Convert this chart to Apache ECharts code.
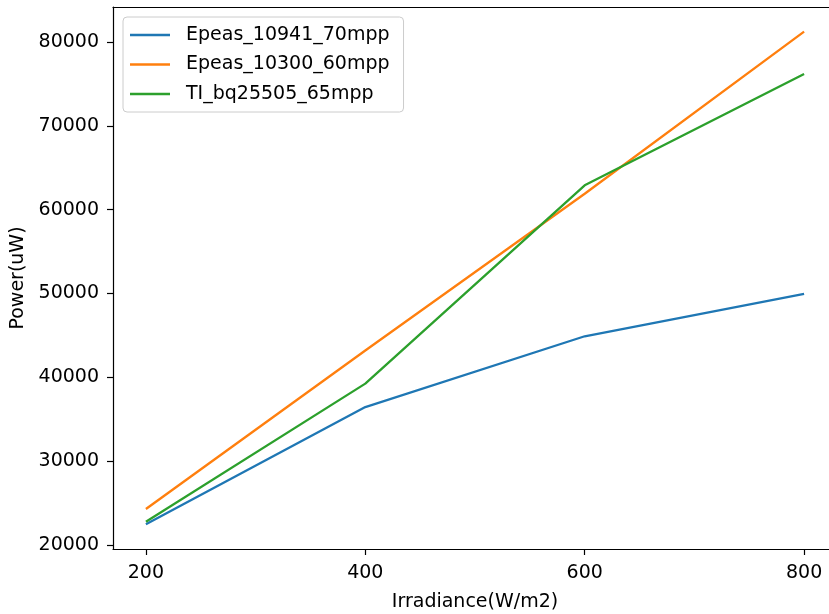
<!DOCTYPE html>
<html>
<head>
<meta charset="utf-8">
<script src="https://cdn.jsdelivr.net/npm/echarts@6/dist/echarts.min.js"></script>
<style>
html,body{margin:0;padding:0;background:#fff;}
#chart{width:829px;height:614px;}
</style>
</head>
<body>
<div id="chart"></div>
<script>
const irradiance = [200, 400, 600, 800];
const epeas10941 = [22470, 36460, 44900, 49950];
const epeas10300 = [24300, 43200, 61900, 81230];
const tiBq25505 = [22780, 39250, 62900, 76180];
const seriesNames = ['Epeas_10941_70mpp', 'Epeas_10300_60mpp', 'TI_bq25505_65mpp'];
const xTicks = [200, 400, 600, 800];
const yTicks = [20000, 30000, 40000, 50000, 60000, 70000, 80000];

const colors = ['#1f77b4', '#ff7f0e', '#2ca02c'];
const font = 'DejaVu Sans';
const fs = 19;

function pairs(ys) { return irradiance.map((x, i) => [x, ys[i]]); }

const chart = echarts.init(document.getElementById('chart'), null, {renderer: 'canvas'});
chart.setOption({
  animation: false,
  backgroundColor: '#fff',
  grid: {left: 113, top: 7, width: 724, height: 542, show: false, containLabel: false, outerBoundsMode: 'none'},
  legend: {
    left: 123, top: 17, orient: 'vertical',
    data: seriesNames.map(n => ({name: n, icon: 'rect'})),
    itemWidth: 40, itemHeight: 2.5, itemGap: 9.5,
    padding: [8, 14, 8, 7],
    borderColor: '#cccccc', borderWidth: 1, borderRadius: 4,
    backgroundColor: 'rgba(255,255,255,0.8)',
    textStyle: {fontFamily: font, fontSize: fs, color: '#000', lineHeight: 20, padding: [0, 0, 0, 11]}
  },
  xAxis: [{
    type: 'value', min: 170, max: 830,
    name: 'Irradiance(W/m2)', nameLocation: 'middle', nameGap: 44,
    nameTextStyle: {fontFamily: font, fontSize: fs, color: '#000'},
    axisLine: {show: true, onZero: false, lineStyle: {color: '#000', width: 1.2}},
    axisTick: {show: true, length: 6, lineStyle: {color: '#000', width: 1.2}, customValues: xTicks},
    axisLabel: {fontFamily: font, fontSize: fs, color: '#000', margin: 15, customValues: xTicks, formatter: v => String(v)},
    splitLine: {show: false}
  }, {
    type: 'value', position: 'top', min: 170, max: 830,
    axisLine: {show: true, onZero: false, lineStyle: {color: '#000', width: 1.2}},
    axisTick: {show: false}, axisLabel: {show: false}, splitLine: {show: false}
  }],
  yAxis: {
    type: 'value', min: 19530, max: 84170,
    name: 'Power(uW)', nameLocation: 'middle', nameGap: 80,
    nameTextStyle: {fontFamily: font, fontSize: fs, color: '#000'},
    axisLine: {show: true, onZero: false, lineStyle: {color: '#000', width: 1.2}},
    axisTick: {show: true, length: 6, lineStyle: {color: '#000', width: 1.2}, customValues: yTicks},
    axisLabel: {fontFamily: font, fontSize: fs, color: '#000', margin: 14, customValues: yTicks, formatter: v => String(v)},
    splitLine: {show: false}
  },
  series: [
    {name: seriesNames[0], type: 'line', data: pairs(epeas10941), symbol: 'none', color: colors[0], lineStyle: {width: 2.3, color: colors[0]}},
    {name: seriesNames[1], type: 'line', data: pairs(epeas10300), symbol: 'none', color: colors[1], lineStyle: {width: 2.3, color: colors[1]}},
    {name: seriesNames[2], type: 'line', data: pairs(tiBq25505), symbol: 'none', color: colors[2], lineStyle: {width: 2.3, color: colors[2]}}
  ]
});
</script>
</body>
</html>
